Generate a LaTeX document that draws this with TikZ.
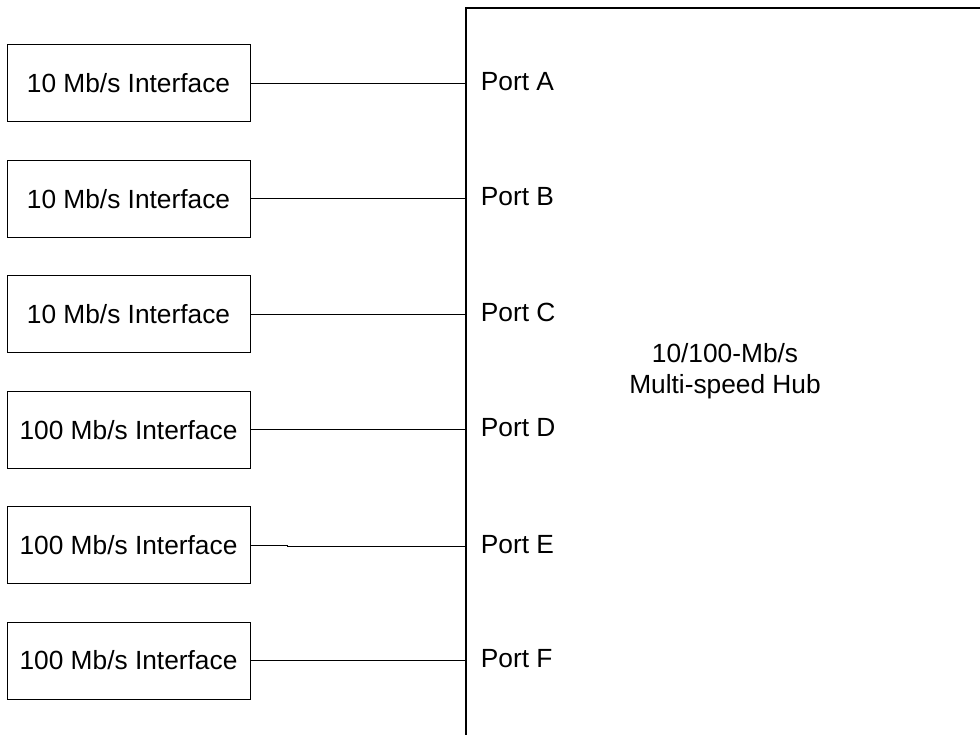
\documentclass[tikz,border=0pt]{standalone}
\usepackage{fontspec}
\setmainfont{Liberation Sans}
\usetikzlibrary{positioning}

\begin{document}
\begin{tikzpicture}[
    x=1pt, y=-1pt,
    line width=1pt,
    font=\fontsize{26.3}{31.5}\selectfont
]
\tikzset{
    ifnode/.style = {rectangle, draw=black, align=center, inner sep=0pt,
                     minimum width=243pt, minimum height=77pt},
    hubnode/.style = {rectangle, draw=black, line width=1.2pt, inner sep=0pt,
                      minimum width=518pt, minimum height=737pt},
    portnode/.style = {inner sep=0pt, anchor=west},
    link/.style = {-}
}
\useasboundingbox (0,0) rectangle (980,735);
\node[hubnode] at (725,376.5) (hub) {};
\node[align=center] at (725,371) (hubtxt) {10/100-Mb/s\\Multi-speed Hub};
\node[ifnode] at (128.5,83.5) (ifA) {10 Mb/s Interface};
\node[ifnode] at (128.5,198.9) (ifB) {10 Mb/s Interface};
\node[ifnode] at (128.5,314.3) (ifC) {10 Mb/s Interface};
\node[ifnode] at (128.5,429.7) (ifD) {100 Mb/s Interface};
\node[ifnode] at (128.5,545.1) (ifE) {100 Mb/s Interface};
\node[ifnode] at (128.5,660.5) (ifF) {100 Mb/s Interface};
\coordinate (pA) at (hub.west |- ifA);
\coordinate (pB) at (hub.west |- ifB);
\coordinate (pC) at (hub.west |- ifC);
\coordinate (pD) at (hub.west |- ifD);
\coordinate[yshift=-1.4pt] (pE) at (hub.west |- ifE);
\coordinate (pF) at (hub.west |- ifF);
\node[portnode, right=15pt of pA, yshift=2pt] (lA) {Port A};
\node[portnode, right=15pt of pB, yshift=2pt] (lB) {Port B};
\node[portnode, right=15pt of pC, yshift=2pt] (lC) {Port C};
\node[portnode, right=15pt of pD, yshift=2pt] (lD) {Port D};
\node[portnode, right=15pt of pE, yshift=2pt] (lE) {Port E};
\node[portnode, right=15pt of pF, yshift=2pt] (lF) {Port F};
\draw[link] (ifA.east) -- (pA);
\draw[link] (ifB.east) -- (pB);
\draw[link] (ifC.east) -- (pC);
\draw[link] (ifD.east) -- (pD);
\draw[link] (ifE.east) -- ++(37,0) |- (pE);
\draw[link] (ifF.east) -- (pF);
\end{tikzpicture}
\end{document}
